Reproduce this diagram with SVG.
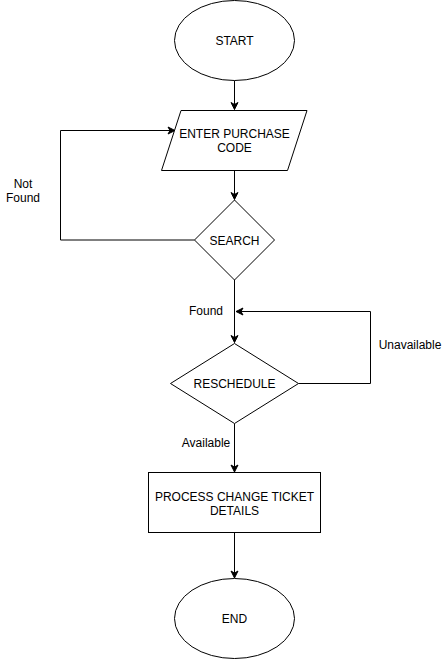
<svg xmlns="http://www.w3.org/2000/svg" width="442" height="659" viewBox="0 0 442 659">
<style>
.shape{fill:#ffffff;stroke:#000000;stroke-width:1}
.edge{fill:none;stroke:#000000;stroke-width:1}
text{font-family:"Liberation Sans",Arial,Helvetica,sans-serif;font-size:12px;fill:#000000;text-anchor:middle;dominant-baseline:central}
</style>
<defs>
<marker id="arr" markerUnits="userSpaceOnUse" markerWidth="10" markerHeight="10" viewBox="-8 -5 9 10" refX="0" refY="0" orient="auto" overflow="visible">
<path d="M0,0 L-7,-3.5 L-5,0 L-7,3.5 Z" fill="#000000" stroke="#000000" stroke-width="1"/>
</marker>
</defs>
<rect width="442" height="659" fill="#ffffff"/>
<g id="connectors">
<path class="edge" d="M234.5,80.5 L234.5,109.5" marker-end="url(#arr)"/>
<path class="edge" d="M234.5,170.5 L234.5,199.5" marker-end="url(#arr)"/>
<path class="edge" d="M194.5,240 L60.5,240 L60.5,130.5 L175,130.5" marker-end="url(#arr)"/>
<path class="edge" d="M234.5,280 L234.5,342.5" marker-end="url(#arr)"/>
<path class="edge" d="M298.5,383.5 L370.5,383.5 L370.5,311.5 L236,311.5" marker-end="url(#arr)"/>
<path class="edge" d="M234.5,423.5 L234.5,472" marker-end="url(#arr)"/>
<path class="edge" d="M234.5,532.5 L234.5,578" marker-end="url(#arr)"/>
<text x="23" y="183.5">Not</text>
<text x="23" y="197.5">Found</text>
<text x="206" y="311">Found</text>
<text x="410" y="344.5">Unavailable</text>
<text x="206" y="443">Available</text>
</g>
<g id="start">
<ellipse class="shape" cx="234.5" cy="40.5" rx="60" ry="40"/>
<text x="234.5" y="41">START</text>
</g>
<g id="enter">
<polygon class="shape" points="181,110.5 307,110.5 287.5,170.5 161.5,170.5"/>
<text x="234.5" y="133.5">ENTER PURCHASE</text>
<text x="234.5" y="147.5">CODE</text>
</g>
<g id="search">
<polygon class="shape" points="234.5,200 274.5,240 234.5,280 194.5,240"/>
<text x="234.5" y="240.5">SEARCH</text>
</g>
<g id="reschedule">
<polygon class="shape" points="234.5,343.5 298.5,383.5 234.5,423.5 170.5,383.5"/>
<text x="234.5" y="383.5">RESCHEDULE</text>
</g>
<g id="process">
<rect class="shape" x="148.5" y="472.5" width="172" height="60"/>
<text x="234.5" y="496.5">PROCESS CHANGE TICKET</text>
<text x="234.5" y="510.5">DETAILS</text>
</g>
<g id="end">
<ellipse class="shape" cx="234.5" cy="618.5" rx="60" ry="40"/>
<text x="234.5" y="618.5">END</text>
</g>
</svg>
